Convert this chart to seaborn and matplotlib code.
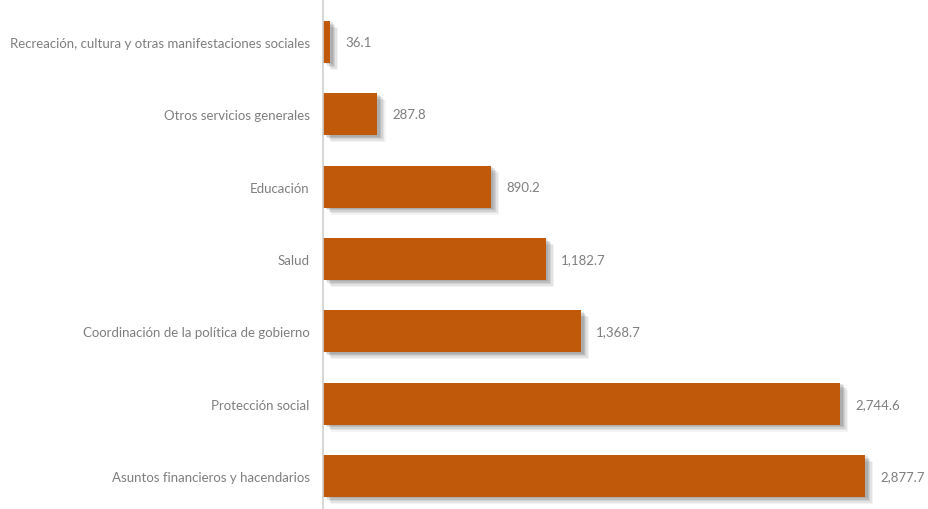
import matplotlib
matplotlib.use("Agg")
import matplotlib.pyplot as plt
import matplotlib.patheffects as pe
import seaborn as sns
import pandas as pd

categories = [
    "Recreación, cultura y otras manifestaciones sociales",
    "Otros servicios generales",
    "Educación",
    "Salud",
    "Coordinación de la política de gobierno",
    "Protección social",
    "Asuntos financieros y hacendarios",
]
values = [36.1, 287.8, 890.2, 1182.7, 1368.7, 2744.6, 2877.7]

sns.set_style("white")
plt.rcParams['font.family'] = ['Lato', 'DejaVu Sans']

df = pd.DataFrame({"cat": categories, "val": values})

fig = plt.figure(figsize=(9.29, 5.10), dpi=100)
ax = fig.add_axes([323/929, 0, (929-323)/929, 1])
sns.barplot(data=df, x="val", y="cat", orient="h", color="#C05A0A",
            saturation=1, width=0.58, linewidth=0, ax=ax)

shadow = []
for dx, dy, a in [(6, -5, 0.06), (5, -4, 0.08), (4, -3, 0.10), (3, -2, 0.12), (2, -1, 0.12)]:
    shadow.append(pe.SimplePatchShadow(offset=(dx, dy), shadow_rgbFace="#333333", alpha=a))
shadow.append(pe.Normal())
for p in ax.patches:
    p.set_path_effects(shadow)

ax.set_ylim(6.456, -0.594)
ax.set_xlim(0, 3218)
ax.set_xlabel("")
ax.set_ylabel("")
ax.set_xticks([])
for s in ["top", "right", "bottom"]:
    ax.spines[s].set_visible(False)
ax.spines["left"].set_color("#d0d0d0")
ax.spines["left"].set_linewidth(1.2)
ax.tick_params(axis="y", length=0, pad=9.5, labelsize=9.5, labelcolor="#7f7f7f")

labels = [f"{v:,.1f}" for v in values]
ax.bar_label(ax.containers[0], labels=labels, padding=11, fontsize=9.5, color="#7f7f7f")

fig.savefig("out.png", dpi=100)
